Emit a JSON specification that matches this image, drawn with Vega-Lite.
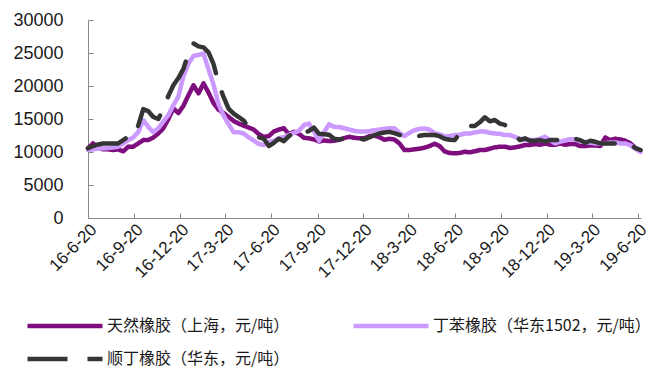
{
"$schema": "https://vega.github.io/schema/vega-lite/v6.json",
"width": 553, "height": 198,
"autosize": "none",
"padding": {"left": 88, "top": 20, "right": 9, "bottom": 153},
"background": "white",
"config": {"view": {"stroke": null}, "font": "Liberation Sans"},
"data": {"values": [
{"d":"2016-06-20","a":10560,"b":10300,"c":10560},
{"d":"2016-06-30","a":11300,"b":10400,"c":10900},
{"d":"2016-07-10","a":10700,"b":10500,"c":11150},
{"d":"2016-07-20","a":10400,"b":10550,"c":11300},
{"d":"2016-07-30","a":10400,"b":10600,"c":11300},
{"d":"2016-08-09","a":10300,"b":10700,"c":11300},
{"d":"2016-08-19","a":10400,"b":10800,"c":11300},
{"d":"2016-08-29","a":10100,"b":11300,"c":11800},
{"d":"2016-09-08","a":10800,"b":11800,"c":12300},
{"d":"2016-09-18","a":10800,"b":12200,"c":12300},
{"d":"2016-09-28","a":11300,"b":13000,"c":14000},
{"d":"2016-10-08","a":11800,"b":14850,"c":16500},
{"d":"2016-10-18","a":11800,"b":13800,"c":16200},
{"d":"2016-10-28","a":12200,"b":13000,"c":15300},
{"d":"2016-11-07","a":12800,"b":13600,"c":15000},
{"d":"2016-11-17","a":13600,"b":14600,"c":16500},
{"d":"2016-11-27","a":15000,"b":15600,"c":18500},
{"d":"2016-12-07","a":16600,"b":17100,"c":20100},
{"d":"2016-12-17","a":15900,"b":18400,"c":21200},
{"d":"2016-12-27","a":17000,"b":21500,"c":22600},
{"d":"2017-01-06","a":18600,"b":23400,"c":25000},
{"d":"2017-01-16","a":20100,"b":24550,"c":26450},
{"d":"2017-01-26","a":18900,"b":24700,"c":26000},
{"d":"2017-02-05","a":20400,"b":24900,"c":25850},
{"d":"2017-02-15","a":19000,"b":22500,"c":25100},
{"d":"2017-02-25","a":17400,"b":20200,"c":23300},
{"d":"2017-03-07","a":16400,"b":17200,"c":20400},
{"d":"2017-03-17","a":15900,"b":15500,"c":18300},
{"d":"2017-03-27","a":15300,"b":14200,"c":16550},
{"d":"2017-04-06","a":14700,"b":13000,"c":15800},
{"d":"2017-04-16","a":14300,"b":13000,"c":15300},
{"d":"2017-04-26","a":14000,"b":12800,"c":14750},
{"d":"2017-05-06","a":13700,"b":12200,"c":13700},
{"d":"2017-05-16","a":13400,"b":11750,"c":13000},
{"d":"2017-05-26","a":12700,"b":11200,"c":12250},
{"d":"2017-06-05","a":12300,"b":11060,"c":12000},
{"d":"2017-06-15","a":12400,"b":11500,"c":10900},
{"d":"2017-06-25","a":13100,"b":11700,"c":11400},
{"d":"2017-07-05","a":13400,"b":12100,"c":12000},
{"d":"2017-07-15","a":13600,"b":12250,"c":11650},
{"d":"2017-07-25","a":12700,"b":12600,"c":12400},
{"d":"2017-08-04","a":13050,"b":12900,"c":12950},
{"d":"2017-08-14","a":12750,"b":13200,"c":13250},
{"d":"2017-08-24","a":12150,"b":14100,"c":12850},
{"d":"2017-09-03","a":12070,"b":14300,"c":13200},
{"d":"2017-09-13","a":11900,"b":13100,"c":13700},
{"d":"2017-09-23","a":11600,"b":11700,"c":12750},
{"d":"2017-10-03","a":11750,"b":13000,"c":12700},
{"d":"2017-10-13","a":11650,"b":14200,"c":12600},
{"d":"2017-10-23","a":11700,"b":13800,"c":12000},
{"d":"2017-11-02","a":11850,"b":13800,"c":11900},
{"d":"2017-11-12","a":12100,"b":13600,"c":12050},
{"d":"2017-11-22","a":12300,"b":13400,"c":11900},
{"d":"2017-12-02","a":12150,"b":13200,"c":11950},
{"d":"2017-12-12","a":12070,"b":13100,"c":12050},
{"d":"2017-12-22","a":12070,"b":13100,"c":11900},
{"d":"2018-01-01","a":12400,"b":13150,"c":12200},
{"d":"2018-01-11","a":12500,"b":13300,"c":12550},
{"d":"2018-01-21","a":12250,"b":13400,"c":12800},
{"d":"2018-01-31","a":11850,"b":13500,"c":12950},
{"d":"2018-02-10","a":12000,"b":13600,"c":13050},
{"d":"2018-02-20","a":11900,"b":13600,"c":12850},
{"d":"2018-03-02","a":11300,"b":12900,"c":12600},
{"d":"2018-03-12","a":10300,"b":12400,"c":12350},
{"d":"2018-03-22","a":10300,"b":12900,"c":12100},
{"d":"2018-04-01","a":10400,"b":13300,"c":12300},
{"d":"2018-04-11","a":10500,"b":13500,"c":12450},
{"d":"2018-04-21","a":10650,"b":13550,"c":12570},
{"d":"2018-05-01","a":10900,"b":13400,"c":12570},
{"d":"2018-05-11","a":11250,"b":12850,"c":12570},
{"d":"2018-05-21","a":10900,"b":12650,"c":12400},
{"d":"2018-05-31","a":10100,"b":12400,"c":12000},
{"d":"2018-06-10","a":9850,"b":12400,"c":11850},
{"d":"2018-06-20","a":9800,"b":12570,"c":11800},
{"d":"2018-06-30","a":9850,"b":12600,"c":12800},
{"d":"2018-07-10","a":10040,"b":12800,"c":13900},
{"d":"2018-07-20","a":9950,"b":12800,"c":13940},
{"d":"2018-07-30","a":10100,"b":12950,"c":13940},
{"d":"2018-08-09","a":10300,"b":13100,"c":14500},
{"d":"2018-08-19","a":10300,"b":13100,"c":15250},
{"d":"2018-08-29","a":10500,"b":12900,"c":14650},
{"d":"2018-09-08","a":10700,"b":12800,"c":14850},
{"d":"2018-09-18","a":10800,"b":12750,"c":14300},
{"d":"2018-09-28","a":10800,"b":12570,"c":14100},
{"d":"2018-10-08","a":10600,"b":12570,"c":13000},
{"d":"2018-10-18","a":10700,"b":12300,"c":12570},
{"d":"2018-10-28","a":10850,"b":12000,"c":11800},
{"d":"2018-11-07","a":11060,"b":11800,"c":12070},
{"d":"2018-11-17","a":11060,"b":11800,"c":11700},
{"d":"2018-11-27","a":11200,"b":11800,"c":11700},
{"d":"2018-12-07","a":11100,"b":12000,"c":11800},
{"d":"2018-12-17","a":11300,"b":12300,"c":11600},
{"d":"2018-12-27","a":11100,"b":11800,"c":11800},
{"d":"2019-01-06","a":11100,"b":11300,"c":11800},
{"d":"2019-01-16","a":11300,"b":11560,"c":11800},
{"d":"2019-01-26","a":11100,"b":11750,"c":11900},
{"d":"2019-02-05","a":11200,"b":11950,"c":12250},
{"d":"2019-02-15","a":11200,"b":11900,"c":12000},
{"d":"2019-02-25","a":10900,"b":11650,"c":11800},
{"d":"2019-03-07","a":10900,"b":11500,"c":11400},
{"d":"2019-03-17","a":11000,"b":11400,"c":11700},
{"d":"2019-03-27","a":11000,"b":11300,"c":11550},
{"d":"2019-04-06","a":10900,"b":11300,"c":11300},
{"d":"2019-04-16","a":12200,"b":11300,"c":11300},
{"d":"2019-04-26","a":11800,"b":11450,"c":11300},
{"d":"2019-05-06","a":12000,"b":11450,"c":11300},
{"d":"2019-05-16","a":11900,"b":11300,"c":11300},
{"d":"2019-05-26","a":11700,"b":11300,"c":11300},
{"d":"2019-06-05","a":11300,"b":11000,"c":11100},
{"d":"2019-06-15","a":10600,"b":10500,"c":10600},
{"d":"2019-06-25","a":10200,"b":10000,"c":10300}
]},
"transform": [{"fold": ["a", "b", "c"], "as": ["k", "v"]}],
"mark": {"type": "line", "strokeWidth": 4.5, "strokeCap": "round", "strokeJoin": "round"},
"encoding": {
  "x": {"field": "d", "type": "temporal",
    "scale": {"type": "utc", "domain": [{"year": 2016, "month": 6, "date": 20, "utc": true}, {"year": 2019, "month": 6, "date": 26, "utc": true}]},
    "axis": {"title": null, "grid": false,
      "values": [
        {"year": 2016, "month": 6, "date": 20, "utc": true},
        {"year": 2016, "month": 9, "date": 20, "utc": true},
        {"year": 2016, "month": 12, "date": 20, "utc": true},
        {"year": 2017, "month": 3, "date": 20, "utc": true},
        {"year": 2017, "month": 6, "date": 20, "utc": true},
        {"year": 2017, "month": 9, "date": 20, "utc": true},
        {"year": 2017, "month": 12, "date": 20, "utc": true},
        {"year": 2018, "month": 3, "date": 20, "utc": true},
        {"year": 2018, "month": 6, "date": 20, "utc": true},
        {"year": 2018, "month": 9, "date": 20, "utc": true},
        {"year": 2018, "month": 12, "date": 20, "utc": true},
        {"year": 2019, "month": 3, "date": 20, "utc": true},
        {"year": 2019, "month": 6, "date": 20, "utc": true}
      ],
      "labelExpr": "utcFormat(datum.value, '%y-%-m-%d')",
      "labelAngle": -45, "labelFontSize": 17, "labelColor": "#1a1a1a", "labelFont": "Liberation Sans",
      "domainColor": "#888888", "tickColor": "#888888", "tickSize": -5, "labelPadding": 8, "labelOverlap": false, "labelFlush": false}},
  "y": {"field": "v", "type": "quantitative",
    "scale": {"domain": [0, 30000], "nice": false},
    "axis": {"title": null, "grid": false, "values": [0, 5000, 10000, 15000, 20000, 25000, 30000], "format": "d",
      "labelFontSize": 18, "labelColor": "#1a1a1a", "labelFont": "Liberation Sans",
      "domainColor": "#888888", "tickColor": "#888888", "tickSize": -5, "labelPadding": 30}},
  "color": {"field": "k", "type": "nominal",
    "scale": {"domain": ["a", "b", "c"], "range": ["#7E0E7E", "#CC99FF", "#353535"]},
    "legend": {"orient": "none", "legendX": -63, "legendY": 296, "title": null, "columns": 2, "direction": "horizontal",
      "symbolType": "M-1,0H9", "symbolSize": 225, "symbolStrokeWidth": 4.5, "labelFontSize": 16, "labelFont": "Noto Sans CJK SC", "labelColor": "#1a1a1a",
      "labelLimit": 400, "labelOffset": 62, "columnPadding": 54, "rowPadding": 14,
      "labelExpr": "datum.label == 'a' ? '天然橡胶（上海，元/吨）' : datum.label == 'b' ? '丁苯橡胶（华东1502，元/吨）' : '顺丁橡胶（华东，元/吨）'"}},
  "strokeDash": {"field": "k", "type": "nominal",
    "scale": {"domain": ["a", "b", "c"], "range": [[1, 0], [1, 0], [40, 20]]},
    "legend": {"orient": "none", "legendX": -63, "legendY": 296, "title": null, "columns": 2, "direction": "horizontal",
      "symbolType": "M-1,0H9", "symbolSize": 225, "symbolStrokeWidth": 4.5, "labelFontSize": 16, "labelFont": "Noto Sans CJK SC", "labelColor": "#1a1a1a",
      "labelLimit": 400, "labelOffset": 62, "columnPadding": 54, "rowPadding": 14,
      "labelExpr": "datum.label == 'a' ? '天然橡胶（上海，元/吨）' : datum.label == 'b' ? '丁苯橡胶（华东1502，元/吨）' : '顺丁橡胶（华东，元/吨）'"}}
}
}
